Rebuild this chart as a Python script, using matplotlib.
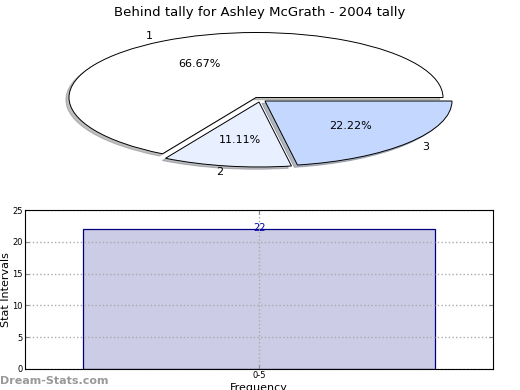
import matplotlib
matplotlib.use("Agg")
import matplotlib.pyplot as plt

# pie data
slice_labels = ['1', '2', '3']
slice_values = [66.67, 11.11, 22.22]
slice_colors = ['#ffffff', '#e8f0ff', '#c4d8ff']
# offsets of the pulled-out slices (data units of the squashed pie)
slice_shift = [(0, 0), (0.016, -0.069), (0.048, -0.054)]

# bar data
bar_cats = ['0-5']
bar_vals = [22]

fig = plt.figure(figsize=(5.2, 3.9), dpi=100)
fig.text(0.5, 0.985, 'Behind tally for Ashley McGrath - 2004 tally',
         ha='center', va='top', fontsize=9.5)

# pie (squashed into an ellipse)
ax1 = fig.add_axes([0, 1 - 176/390, 1, 156/390])
wedges, texts, autotexts = ax1.pie(slice_values, labels=slice_labels, colors=slice_colors,
                                   autopct='%.2f%%',
                                   shadow={'ox': -0.012, 'oy': -0.025, 'shade': 0.5},
                                   startangle=0, counterclock=True,
                                   wedgeprops={'edgecolor': 'black', 'linewidth': 0.7},
                                   textprops={'fontsize': 8})
for w, t, at, (dx, dy) in zip(wedges, texts, autotexts, slice_shift):
    w.set_center((dx, dy))
    tx, ty = t.get_position()
    t.set_position((tx + dx, ty + dy))
    ax_, ay_ = at.get_position()
    at.set_position((ax_ + dx, ay_ + dy))
ax1.set_aspect('auto')
ax1.set_xlim(-256/187, 264/187)
ax1.set_ylim(-78.5/65, 77.5/65)
ax1.axis('off')

# bar chart
ax2 = fig.add_axes([25/520, 1 - 369/390, 468/520, 159/390])
x = list(range(len(bar_cats)))
bars = ax2.bar(x, bar_vals, width=0.75, color='#ccccE6', edgecolor='#000080', linewidth=0.9)
for xi, v in zip(x, bar_vals):
    ax2.text(xi, v - 0.6, str(v), ha='center', va='bottom', color='#0000aa', fontsize=7)
ax2.set_xlim(-0.5, 0.5)
ax2.set_ylim(0, 25)
ax2.set_yticks([0, 5, 10, 15, 20, 25])
ax2.set_xticks(x)
ax2.set_xticklabels(bar_cats)
ax2.tick_params(labelsize=6, direction='in', length=3, pad=1.5, top=True, right=True,
                colors='#888888', labelcolor='black')
ax2.grid(True, linestyle=':', color='#aaaaaa', linewidth=1)
ax2.set_axisbelow(False)
for sp in ax2.spines.values():
    sp.set_zorder(5)
ax2.set_ylabel('Stat Intervals', fontsize=8, labelpad=1)
ax2.set_xlabel('Frequency', fontsize=8, labelpad=2)

fig.text(0.0, 1 - 381/390, 'Dream-Stats.com', ha='left', va='center',
         fontsize=8, color='#999999', fontweight='bold')

fig.savefig('out.png', dpi=100)
